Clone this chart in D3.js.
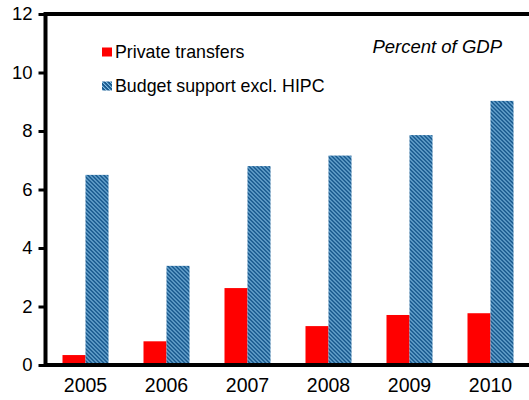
<!DOCTYPE html>
<html>
<head>
<meta charset="utf-8">
<script src="https://cdn.jsdelivr.net/npm/d3@7"></script>
<style>
  html, body { margin: 0; padding: 0; background: #fff; }
  svg { display: block; font-family: "Liberation Sans", Arial, sans-serif; }
</style>
</head>
<body>
<svg id="chart" width="529" height="400"></svg>
<script>
// Years on the category axis
const years = ["2005", "2006", "2007", "2008", "2009", "2010"];
// Series (percent of GDP)
const privateTransfers = [0.34, 0.81, 2.63, 1.33, 1.71, 1.77];
const budgetSupport = [6.50, 3.39, 6.80, 7.16, 7.86, 9.03];
const seriesNames = ["Private transfers", "Budget support excl. HIPC"];
// Value axis ticks
const yTicks = [0, 2, 4, 6, 8, 10, 12];

const svg = d3.select("#chart");
const plotLeft = 45.5, plotRight = 531, plotTop = 14, plotBottom = 365;

// Hatched blue fill for the budget support series
const defs = svg.append("defs");
const pat = defs.append("pattern")
  .attr("id", "hatch")
  .attr("patternUnits", "userSpaceOnUse")
  .attr("width", 4).attr("height", 4);
pat.append("rect").attr("width", 4).attr("height", 4).attr("fill", "#1a5a8e");
[[0,0],[1,1],[2,2],[3,3]].forEach(([px, py]) => {
  pat.append("rect").attr("x", px).attr("y", py).attr("width", 1).attr("height", 1)
    .attr("fill", "#86c0e4");
});
[[1,0],[2,1],[3,2],[0,3]].forEach(([px, py]) => {
  pat.append("rect").attr("x", px).attr("y", py).attr("width", 1).attr("height", 1)
    .attr("fill", "#3d7db1");
});

const x0 = d3.scaleBand().domain(years).range([45, 531])
  .paddingInner(0.432).paddingOuter(0.216);
const x1 = d3.scaleBand().domain(seriesNames).range([0, x0.bandwidth()]);
const y = d3.scaleLinear().domain([0, 12]).range([plotBottom, plotTop]);
const fills = ["#ff0000", "url(#hatch)"];

const rows = years.map((yr, i) => ({ year: yr, values: [privateTransfers[i], budgetSupport[i]] }));

const groups = svg.append("g").selectAll("g").data(rows).join("g")
  .attr("transform", d => `translate(${x0(d.year)},0)`);
groups.selectAll("rect")
  .data(d => d.values.map((v, k) => ({ v, k })))
  .join("rect")
  .attr("x", d => x1(seriesNames[d.k]))
  .attr("width", x1.bandwidth())
  .attr("y", d => y(d.v))
  .attr("height", d => y(0) - y(d.v))
  .attr("fill", d => fills[d.k]);

// Frame: top and bottom rules
svg.append("line").attr("x1", plotLeft).attr("x2", plotRight).attr("y1", plotTop).attr("y2", plotTop)
  .attr("stroke", "#000").attr("stroke-width", 4);
svg.append("line").attr("x1", plotLeft).attr("x2", plotRight).attr("y1", plotBottom).attr("y2", plotBottom)
  .attr("stroke", "#000").attr("stroke-width", 4);

// Y axis
const yAxis = svg.append("g").attr("transform", `translate(${plotLeft},0)`)
  .call(d3.axisLeft(y).tickValues(yTicks).tickSize(7).tickPadding(6).tickFormat(d3.format("d")));
yAxis.select(".domain").attr("stroke", "#000").attr("stroke-width", 4)
  .attr("d", `M0,${plotTop - 2}V${plotBottom + 2}`);
yAxis.selectAll(".tick line").attr("stroke", "#000").attr("stroke-width", 3);
yAxis.selectAll(".tick text").attr("font-size", 18.5).attr("fill", "#000")
  .attr("font-family", "Liberation Sans, Arial, sans-serif");

// X axis labels
const xAxis = svg.append("g").attr("transform", `translate(0,${plotBottom})`)
  .call(d3.axisBottom(x0).tickSize(0).tickPadding(13));
xAxis.select(".domain").remove();
xAxis.selectAll(".tick text").attr("font-size", 19.5).attr("fill", "#000")
  .attr("font-family", "Liberation Sans, Arial, sans-serif");

// Legend
const legend = svg.append("g");
seriesNames.forEach((name, k) => {
  const ly = 52 + k * 34;
  legend.append("rect").attr("x", 102).attr("y", ly - 4.5).attr("width", 10).attr("height", 9)
    .attr("fill", fills[k]);
  legend.append("text").attr("x", 115).attr("y", ly + 5.5).attr("font-size", 17.8)
    .attr("fill", "#000").text(name);
});

// Unit note
svg.append("text").attr("x", 502).attr("y", 53).attr("text-anchor", "end")
  .attr("font-size", 18.5).attr("font-style", "italic").attr("fill", "#000")
  .text("Percent of GDP");
</script>
</body>
</html>
